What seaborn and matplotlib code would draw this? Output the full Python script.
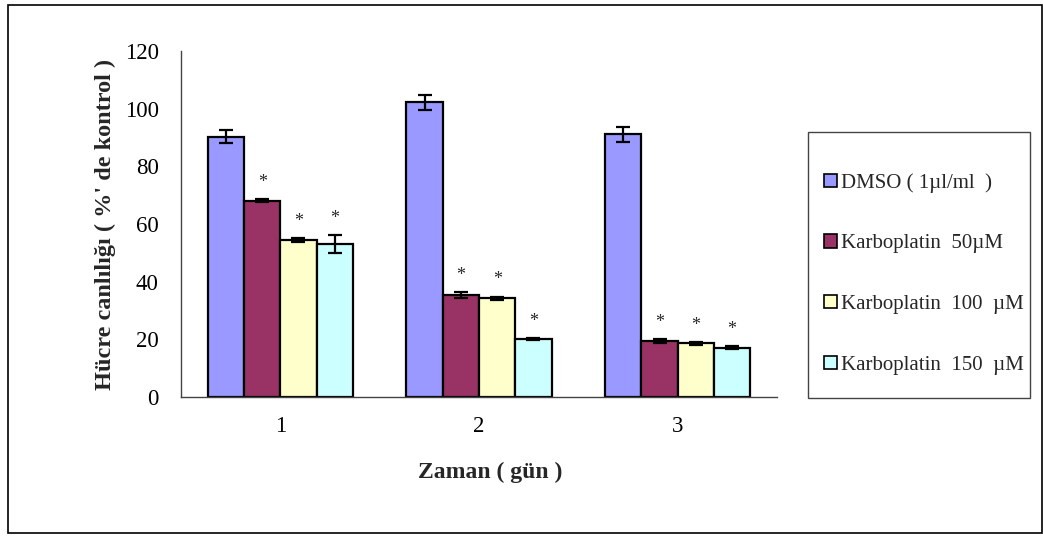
import matplotlib
matplotlib.use("Agg")
import matplotlib.pyplot as plt
import matplotlib.patches as mpatches
import seaborn as sns
import pandas as pd

# --- data ---
days = ["1", "2", "3"]
groups = ["DMSO ( 1µl/ml  )", "Karboplatin  50µM", "Karboplatin  100  µM", "Karboplatin  150  µM"]
colors = ["#9999FF", "#993366", "#FFFFCC", "#CCFFFF"]

dmso = [90.3, 102.2, 91.2]
karbo50 = [68.0, 35.4, 19.4]
karbo100 = [54.5, 34.2, 18.6]
karbo150 = [53.0, 20.0, 17.1]

dmso_err = [2.3, 2.6, 2.6]
karbo50_err = [0.5, 1.0, 0.7]
karbo100_err = [0.7, 0.6, 0.5]
karbo150_err = [3.2, 0.3, 0.5]

values = [dmso, karbo50, karbo100, karbo150]
errors = [dmso_err, karbo50_err, karbo100_err, karbo150_err]
significant = [False, True, True, True]

rows = []
for g, vals in zip(groups, values):
    for d, v in zip(days, vals):
        rows.append({"day": d, "group": g, "value": v})
df = pd.DataFrame(rows)

# --- plot ---
sns.set_style("white")
plt.rcParams["font.family"] = ["Liberation Serif", "DejaVu Serif"]

W, H = 1043, 536
fig = plt.figure(figsize=(W / 100, H / 100), dpi=100)
ax = fig.add_axes([181 / W, 1 - 397 / H, (777 - 181) / W, (397 - 51) / H])

sns.barplot(data=df, x="day", y="value", hue="group", order=days, hue_order=groups,
            palette=colors, width=0.73, gap=0, errorbar=None, saturation=1,
            edgecolor="black", linewidth=1.6, legend=False, ax=ax)

for cont, errs, sig in zip(ax.containers, errors, significant):
    for bar, e in zip(cont, errs):
        xc = bar.get_x() + bar.get_width() / 2
        h = bar.get_height()
        ax.errorbar(xc, h, yerr=e, fmt="none", ecolor="black", elinewidth=1.6,
                    capsize=5, capthick=1.6, zorder=5)
        if sig:
            ax.annotate("*", (xc, h + e), xytext=(0, 6), textcoords="offset points",
                        ha="center", va="bottom", fontsize=13)

ax.set_ylim(0, 120)
ax.set_xlim(-0.5, 2.5)
ax.set_yticks(range(0, 121, 20))
ax.set_xticks([-0.5, 0.5, 1.5, 2.5], minor=True)
ax.tick_params(axis="x", which="major", length=0, labelsize=16.5, pad=14)
ax.tick_params(axis="x", which="minor", length=7, width=1, color="#444444", direction="out")
ax.tick_params(axis="y", length=6, width=1, color="#444444", direction="out", labelsize=16.5, pad=10)
ax.tick_params(axis="both", labelcolor="black")

for s in ["top", "right"]:
    ax.spines[s].set_visible(False)
for s in ["left", "bottom"]:
    ax.spines[s].set_color("#444444")
    ax.spines[s].set_linewidth(1)

ax.set_ylabel("Hücre canlılığı ( %' de kontrol )", fontsize=17.5, fontweight="bold")
ax.yaxis.set_label_coords(-(181 - 105) / (777 - 181), 0.5)
ax.yaxis.label.set_va("center")
ax.set_xlabel("Zaman ( gün )", fontsize=17, fontweight="bold")
ax.xaxis.set_label_coords((490 - 181) / (777 - 181), -(472 - 397) / (397 - 51))
ax.xaxis.label.set_va("center")

# legend with separate frame
handles = [mpatches.Patch(facecolor=c, edgecolor="black", linewidth=1.2) for c in colors]
fig.legend(handles, groups, loc="upper left", bbox_to_anchor=(824 / W, 1 - 173 / H),
           frameon=False, fontsize=15, handlelength=0.6, handleheight=0.6,
           handletextpad=0.2, labelspacing=2.0, borderpad=0, borderaxespad=0)
fig.patches.append(mpatches.Rectangle((808 / W, 1 - 398 / H), (1030 - 808) / W, (398 - 132) / H,
                                      transform=fig.transFigure, fill=False,
                                      edgecolor="#444444", linewidth=1))
# outer frame
fig.patches.append(mpatches.Rectangle((8 / W, 1 - 533 / H), (1042 - 8) / W, (533 - 5) / H,
                                      transform=fig.transFigure, fill=False,
                                      edgecolor="black", linewidth=1.2))

fig.savefig("out.png", dpi=100)
